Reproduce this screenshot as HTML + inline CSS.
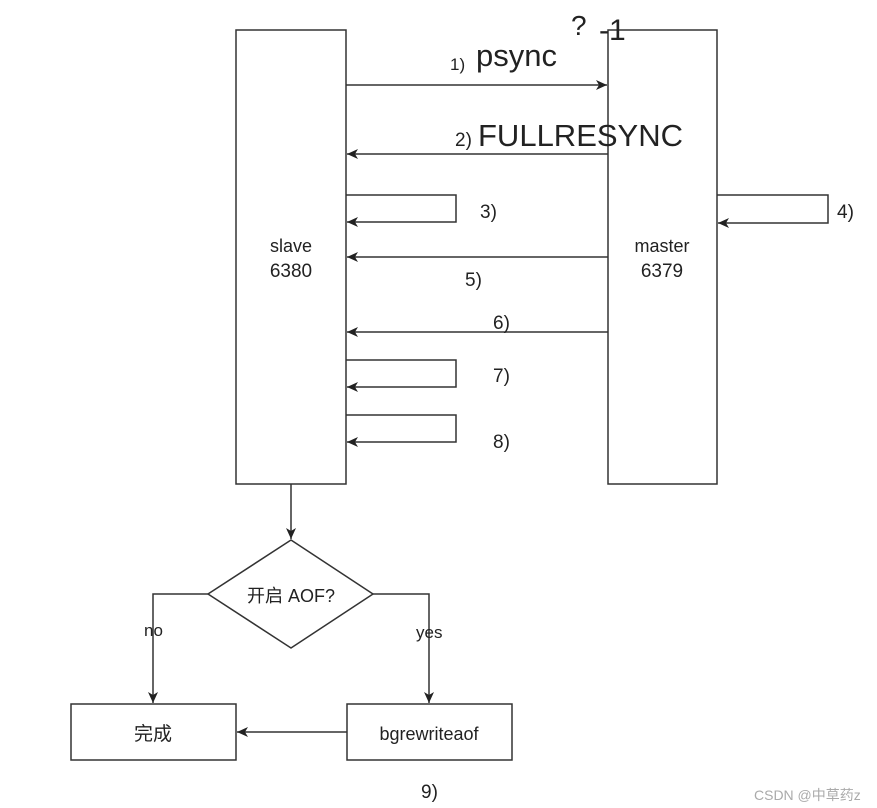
<!DOCTYPE html>
<html><head><meta charset="utf-8"><style>
html,body{margin:0;padding:0;background:#fff;width:877px;height:808px;overflow:hidden}
text{font-family:"Liberation Sans","Noto Sans CJK SC",sans-serif;fill:#222}
</style></head><body>
<svg width="877" height="808" viewBox="0 0 877 808" xmlns="http://www.w3.org/2000/svg">
<defs><marker id="a" markerWidth="12" markerHeight="10" refX="11" refY="5" orient="auto" markerUnits="userSpaceOnUse"><path d="M0,0 L11,5 L0,10 L3,5 Z" fill="#222"/></marker></defs>
<g stroke="#333" stroke-width="1.5" fill="none">
<rect x="236" y="30" width="110" height="454" fill="#fff"/>
<rect x="608" y="30" width="109" height="454" fill="#fff"/>
<line x1="346" y1="85" x2="607" y2="85" marker-end="url(#a)"/>
<line x1="608" y1="154" x2="347" y2="154" marker-end="url(#a)"/>
<polyline points="346,195 456,195 456,222 347,222" marker-end="url(#a)"/>
<polyline points="717,195 828,195 828,223 718,223" marker-end="url(#a)"/>
<line x1="608" y1="257" x2="347" y2="257" marker-end="url(#a)"/>
<line x1="608" y1="332" x2="347" y2="332" marker-end="url(#a)"/>
<polyline points="346,360 456,360 456,387 347,387" marker-end="url(#a)"/>
<polyline points="346,415 456,415 456,442 347,442" marker-end="url(#a)"/>
<line x1="291" y1="484" x2="291" y2="539" marker-end="url(#a)"/>
<polygon points="291,540 373,594 291,648 208,594" fill="#fff"/>
<polyline points="208,594 153,594 153,703" marker-end="url(#a)"/>
<polyline points="373,594 429,594 429,703" marker-end="url(#a)"/>
<rect x="71" y="704" width="165" height="56" fill="#fff"/>
<rect x="347" y="704" width="165" height="56" fill="#fff"/>
<line x1="347" y1="732" x2="237" y2="732" marker-end="url(#a)"/>
</g>
<text x="450" y="70" font-size="17">1)</text>
<text x="476" y="66" font-size="31">psync</text>
<text x="571" y="35" font-size="28">?</text>
<text x="599" y="40" font-size="30">-1</text>
<text x="455" y="146" font-size="19">2)</text>
<text x="478" y="146" font-size="31">FULLRESYNC</text>
<text x="480" y="218" font-size="19">3)</text>
<text x="837" y="218" font-size="19">4)</text>
<text x="465" y="286" font-size="19">5)</text>
<text x="493" y="329" font-size="19">6)</text>
<text x="493" y="382" font-size="19">7)</text>
<text x="493" y="448" font-size="19">8)</text>
<text x="291" y="252" font-size="18" text-anchor="middle">slave</text>
<text x="291" y="277" font-size="19" text-anchor="middle">6380</text>
<text x="662" y="252" font-size="18" text-anchor="middle">master</text>
<text x="662" y="277" font-size="19" text-anchor="middle">6379</text>
<text x="291" y="602" font-size="18" text-anchor="middle">开启 AOF?</text>
<text x="144" y="636" font-size="17">no</text>
<text x="416" y="638" font-size="17">yes</text>
<text x="153" y="740" font-size="19" text-anchor="middle">完成</text>
<text x="429" y="740" font-size="18" text-anchor="middle">bgrewriteaof</text>
<text x="421" y="798" font-size="19">9)</text>
<text x="754" y="800" font-size="14" style="fill:#aaa">CSDN @中草药z</text>
</svg>
</body></html>
